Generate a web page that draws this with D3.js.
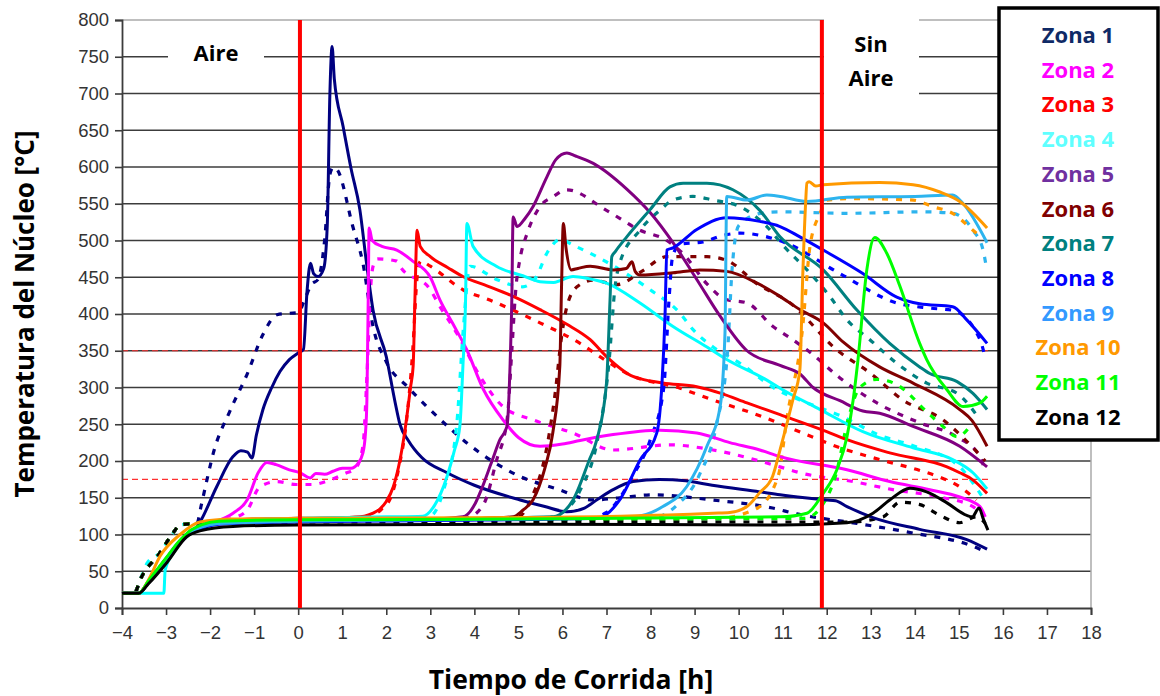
<!DOCTYPE html>
<html>
<head>
<meta charset="utf-8">
<script src="https://cdn.jsdelivr.net/npm/d3@7"></script>
<style>
  body { margin: 0; background: #fff; }
  svg { display: block; }
</style>
</head>
<body>
<div id="main"></div>
<script>
// tick values for both axes
const xTicks = d3.range(-4, 19, 1);
const yTicks = d3.range(0, 801, 50);

// zone names (legend)
const zones = ['Zona 1', 'Zona 2', 'Zona 3', 'Zona 4', 'Zona 5', 'Zona 6',
               'Zona 7', 'Zona 8', 'Zona 9', 'Zona 10', 'Zona 11', 'Zona 12'];

// reference marks: air on / air off (hours) and threshold temperatures
const airMarks = [0.04, 11.89];
const thresholds = [350, 175];

// [hora, temperatura] - solid = first thermocouple, b = dashed one
const zona1 = [[-4,20],[-3.62,20],[-3.4,35],[-3.0,65],[-2.7,88],[-2.5,100],[-2.3,110],[-2.2,120],[-1.85,165],[-1.48,206],[-1.3,214],[-1.15,212],[-1.05,204],[-0.95,235],[-0.8,270],[-0.6,300],[-0.41,322],[-0.2,338],[0.0,347],[0.12,352],[0.2,430],[0.28,469],[0.35,455],[0.45,451],[0.58,462],[0.66,520],[0.72,700],[0.77,764],[0.82,720],[1.02,655],[1.2,598],[1.4,542],[1.55,470],[1.7,405],[2.0,342],[2.2,280],[2.31,250],[2.5,228],[2.8,205],[3.38,184],[4.0,167],[5.04,147],[5.6,138],[6.1,131],[6.5,136],[6.8,148],[7.15,161],[7.6,172],[8.2,175],[8.8,173],[9.4,167],[10.48,158],[10.94,154],[11.5,150],[12.0,147],[12.2,146],[12.46,138],[13.05,123],[14.11,107],[15.18,93],[15.64,80]];
const zona1b = [[-4,20],[-3.7,22],[-3.59,38],[-3.14,75],[-2.84,102],[-2.68,113],[-2.3,115],[-2.2,140],[-2.05,180],[-1.93,210],[-1.55,268],[-1.16,318],[-0.8,372],[-0.48,399],[-0.2,401],[0.0,402],[0.15,420],[0.3,440],[0.45,447],[0.6,500],[0.72,590],[0.8,600],[0.9,595],[1.24,519],[1.47,469],[1.7,383],[2.0,335],[2.5,300],[2.99,270],[4.13,211],[5.0,180],[5.87,162],[6.7,147],[7.3,150],[8.05,154],[9.4,147],[10.77,136],[11.32,128],[12.69,115],[13.96,102],[15.32,84],[15.55,78]];

const zona2 = [[-4,20],[-3.62,20],[-3.4,36],[-3.0,67],[-2.7,90],[-2.5,102],[-2.2,112],[-1.9,117],[-1.48,129],[-1.16,147],[-0.9,185],[-0.71,198],[-0.5,195],[-0.2,188],[0.04,184],[0.27,177],[0.4,183],[0.6,182],[0.79,186],[1.0,190],[1.2,190],[1.35,196],[1.47,211],[1.53,240],[1.56,283],[1.59,420],[1.61,517],[1.68,500],[1.9,492],[2.24,487],[2.6,472],[3.0,450],[3.22,419],[3.5,388],[3.83,351],[4.2,298],[4.65,256],[5.0,232],[5.49,220],[6.0,223],[6.4,228],[7.15,236],[8.21,242],[9.05,238],[9.8,225],[10.48,215],[10.94,206],[12.46,188],[13.43,172],[14.34,161],[15.02,151],[15.48,138],[15.6,124]];
const zona2b = [[-4,20],[-3.7,22],[-3.59,38],[-3.14,75],[-2.84,102],[-2.68,113],[-2.3,115],[-1.9,118],[-1.5,122],[-1.16,133],[-0.87,165],[-0.48,172],[-0.05,168],[0.3,168],[0.72,174],[1.06,183],[1.3,190],[1.47,220],[1.56,315],[1.65,440],[1.7,465],[1.8,475],[2.24,472],[2.31,465],[3.0,433],[3.22,410],[3.6,374],[4.13,315],[4.65,274],[5.33,256],[6.24,238],[7.15,215],[8.44,222],[9.42,215],[10.94,192],[11.39,184],[12.6,172],[13.5,161],[14.57,151],[15.32,138],[15.5,128]];

const zona3 = [[-4,20],[-3.62,20],[-3.4,36],[-3.0,67],[-2.7,90],[-2.5,102],[-2.2,112],[-1.8,118],[-1,121],[0,122],[1.0,123],[1.5,125],[1.7,129],[1.86,135],[2.0,145],[2.16,165],[2.31,201],[2.42,240],[2.55,300],[2.61,329],[2.65,419],[2.7,514],[2.77,492],[3.0,478],[3.4,463],[3.74,451],[4.3,438],[4.88,424],[5.49,406],[6.1,386],[6.63,365],[7.0,342],[7.6,315],[7.76,312],[8.28,306],[9.05,301],[9.6,292],[10.19,279],[10.94,263],[12.0,240],[12.46,229],[13.43,211],[14.73,192],[15.02,184],[15.3,175],[15.64,156]];
const zona3b = [[-4,20],[-3.7,22],[-3.59,38],[-3.14,75],[-2.84,102],[-2.68,113],[-2.3,115],[-1.5,119],[0,120],[1.5,123],[1.9,135],[2.1,150],[2.3,195],[2.45,250],[2.6,350],[2.7,450],[2.78,472],[3.0,465],[3.74,433],[4.35,419],[5.03,401],[5.49,388],[6.4,360],[6.85,342],[7.5,318],[8.67,299],[9.42,283],[10.55,260],[11.46,238],[12.3,218],[13.2,202],[14.18,186],[14.57,178],[15.02,165],[15.4,147]];

const zona4 = [[-4,20],[-3.05,20],[-3.02,52],[-2.8,78],[-2.6,95],[-2.4,105],[-2.1,114],[-1.6,119],[0,122],[2.0,124],[2.83,125],[3.1,140],[3.38,179],[3.55,215],[3.67,247],[3.74,329],[3.8,419],[3.83,523],[3.97,492],[4.5,465],[5.1,452],[5.49,444],[5.8,443],[6.24,451],[6.6,448],[7.0,442],[7.76,415],[8.51,383],[9.28,355],[9.73,338],[10.64,310],[10.94,299],[11.85,270],[12.82,240],[13.96,218],[14.86,202],[15.32,184],[15.64,162]];
const zona4b = [[-4,20],[-3.7,22],[-3.59,38],[-3.43,61],[-3.14,75],[-2.84,102],[-2.68,113],[-2.3,115],[-1.5,119],[0,120],[2.5,121],[3.0,125],[3.3,160],[3.6,250],[3.75,380],[3.9,465],[4.5,447],[5.1,437],[5.4,450],[5.65,483],[5.94,501],[6.3,492],[6.78,478],[7.99,433],[8.67,401],[8.96,379],[9.42,355],[10.03,333],[10.87,297],[11.39,283],[12.37,260],[13.2,235],[13.9,222],[15.0,193],[15.48,156],[15.6,145]];

const zona5 = [[-4,20],[-3.62,20],[-3.4,35],[-3.0,66],[-2.7,89],[-2.5,101],[-2.2,111],[-1.8,116],[0,119],[3.0,121],[3.74,124],[4.0,140],[4.13,157],[4.4,200],[4.58,229],[4.74,247],[4.81,329],[4.85,419],[4.88,532],[4.97,519],[5.15,530],[5.33,546],[5.65,587],[5.85,610],[6.1,619],[6.3,615],[6.7,605],[7.46,570],[7.99,538],[8.51,497],[9.05,447],[9.58,397],[10.19,350],[10.94,330],[11.4,318],[11.69,300],[12.3,282],[12.82,268],[13.2,265],[13.96,247],[15.02,220],[15.64,192]];
const zona5b = [[-4,20],[-3.7,22],[-3.59,38],[-3.14,75],[-2.84,102],[-2.68,113],[-2.3,115],[-1.5,118],[0,119],[3.0,120],[3.8,122],[4.2,140],[4.5,200],[4.75,260],[4.85,350],[4.95,440],[5.03,473],[5.2,510],[5.49,546],[5.8,560],[6.1,569],[7.0,541],[7.76,514],[8.37,500],[8.74,482],[9.28,441],[9.7,420],[10.19,415],[10.78,383],[11.23,365],[11.62,348],[12.3,313],[13.14,279],[14.11,252],[14.95,233],[15.48,206],[15.6,185]];

const zona6 = [[-4,20],[-3.62,20],[-3.4,35],[-3.0,66],[-2.7,89],[-2.5,101],[-2.2,110],[-1.8,115],[0,118],[3.0,120],[4.88,124],[5.1,133],[5.33,147],[5.6,190],[5.78,238],[5.94,329],[5.98,440],[6.02,523],[6.08,490],[6.2,460],[6.35,462],[6.63,465],[7.15,460],[7.45,462],[7.58,471],[7.65,458],[7.76,453],[8.51,456],[9.12,460],[9.73,458],[10.42,442],[10.94,424],[11.39,406],[11.92,388],[12.37,362],[13.2,328],[13.96,306],[15.02,270],[15.3,255],[15.64,220]];
const zona6b = [[-4,20],[-3.7,22],[-3.59,38],[-3.14,75],[-2.84,102],[-2.68,113],[-2.3,115],[-1.5,118],[0,119],[4.0,120],[5.0,124],[5.3,150],[5.65,220],[5.85,300],[5.96,360],[6.1,410],[6.33,437],[6.7,446],[7.23,440],[7.8,458],[8.37,478],[9.28,478],[9.73,473],[10.42,441],[11.17,415],[12.23,351],[12.98,320],[13.73,283],[14.64,256],[15.32,218],[15.6,200]];

const zona7 = [[-4,20],[-3.62,20],[-3.4,36],[-3.0,67],[-2.7,90],[-2.5,102],[-2.2,112],[-1.8,117],[0,120],[3,121],[5.78,124],[6.24,147],[6.6,200],[6.78,229],[7.0,306],[7.08,419],[7.12,478],[7.2,485],[7.46,505],[7.99,542],[8.44,573],[8.74,578],[9.28,578],[9.87,569],[10.48,541],[10.94,505],[11.92,460],[12.69,405],[13.43,360],[14.11,328],[14.34,319],[14.96,308],[15.32,292],[15.64,270]];
const zona7b = [[-4,20],[-3.7,22],[-3.59,38],[-3.14,75],[-2.84,102],[-2.68,113],[-2.3,115],[-1.5,118],[0,119],[5.5,121],[6.0,130],[6.4,160],[6.8,230],[7.05,330],[7.2,440],[7.3,469],[7.76,514],[8.21,541],[8.51,555],[8.96,560],[9.42,555],[10.03,546],[10.64,519],[11.0,494],[11.69,451],[12.07,424],[12.46,392],[12.98,365],[13.59,333],[14.27,306],[14.96,292],[15.48,256]];

const zona8 = [[-4,20],[-3.62,20],[-3.4,34],[-3.0,64],[-2.7,87],[-2.5,99],[-2.2,108],[-1.8,114],[0,117],[3,119],[6.78,122],[7.3,147],[7.76,201],[8.14,238],[8.26,306],[8.33,400],[8.37,487],[8.51,490],[9.05,515],[9.73,531],[10.48,526],[10.94,519],[11.39,505],[11.92,487],[12.82,455],[13.59,423],[14.11,414],[14.86,410],[15.18,392],[15.64,360]];
const zona8b = [[-4,20],[-3.7,22],[-3.59,38],[-3.14,75],[-2.84,102],[-2.68,113],[-2.3,115],[-1.5,118],[0,119],[6.5,121],[7.0,130],[7.6,180],[8.0,230],[8.3,300],[8.42,420],[8.5,478],[8.67,495],[9.19,498],[9.65,507],[10.03,510],[10.64,505],[11.1,496],[12.3,455],[13.59,415],[14.34,408],[14.86,405],[15.48,365],[15.6,340]];

const zona9 = [[-4,20],[-3.62,20],[-3.4,35],[-3.0,66],[-2.7,89],[-2.5,101],[-2.2,110],[-1.8,115],[0,118],[3,120],[7.6,124],[8.28,138],[8.82,165],[9.28,220],[9.58,274],[9.69,374],[9.73,560],[10.19,555],[10.64,562],[10.94,560],[11.55,553],[12.46,559],[14.0,560],[14.86,562],[15.1,550],[15.64,497]];
const zona9b = [[-4,20],[-3.7,22],[-3.59,38],[-3.14,75],[-2.84,102],[-2.68,113],[-2.3,115],[-1.5,118],[0,119],[8.0,122],[8.6,140],[9.1,180],[9.5,250],[9.75,350],[9.85,460],[10.0,520],[10.5,537],[10.94,539],[12.46,537],[14.18,539],[14.86,537],[15.32,514],[15.55,487],[15.62,465]];

const zona10 = [[-4,20],[-3.62,20],[-3.4,38],[-3.14,70],[-2.68,100],[-2.23,117],[-1.5,121],[0,122],[5,123],[9.42,129],[9.8,130],[10.19,138],[10.48,157],[10.77,179],[10.94,215],[11.23,283],[11.39,324],[11.46,460],[11.52,550],[11.55,578],[11.6,580],[11.75,574],[11.92,576],[13.2,579],[13.96,576],[14.57,566],[15.02,553],[15.64,517]];
const zona10b = [[-4,20],[-3.7,22],[-3.59,38],[-3.14,75],[-2.84,102],[-2.68,113],[-2.3,115],[-1.5,118],[0,120],[9.5,122],[10.4,135],[10.9,180],[11.1,260],[11.45,380],[11.62,492],[11.85,537],[12.0,555],[12.6,557],[13.96,555],[14.41,546],[14.86,537],[15.32,514],[15.4,510]];

const zona11 = [[-4,20],[-3.62,20],[-3.4,37],[-3.0,68],[-2.7,91],[-2.5,103],[-2.2,113],[-1.8,118],[0,120],[5,121],[10.94,124],[11.55,129],[11.92,156],[12.23,188],[12.46,233],[12.6,283],[12.71,338],[12.91,460],[13.09,504],[13.36,483],[13.66,438],[14.11,360],[14.27,338],[14.73,297],[15.1,274],[15.48,279],[15.64,288]];
const zona11b = [[-4,20],[-3.7,22],[-3.59,38],[-3.14,75],[-2.84,102],[-2.68,113],[-2.3,115],[-1.5,118],[0,119],[11.5,122],[11.9,140],[12.2,180],[12.5,260],[12.75,300],[13.14,311],[13.59,304],[14.27,267],[14.64,247],[14.96,233],[15.32,253]];

const zona12 = [[-4,20],[-3.62,20],[-3.4,33],[-2.98,62],[-2.53,97],[-2.23,105],[-1.48,111],[0,113],[5,114],[10.94,113],[12.46,116],[13.05,129],[13.43,147],[13.89,163],[14.27,158],[14.73,143],[15.18,126],[15.3,124],[15.46,136],[15.55,122],[15.66,106]];
const zona12b = [[-4,20],[-3.7,22],[-3.59,38],[-3.14,75],[-2.84,102],[-2.68,113],[-2.3,115],[-1.5,116],[0,117],[12.5,117],[13.28,124],[13.66,144],[14.1,141],[14.57,126],[15.02,116],[15.4,124],[15.6,115]];

const solidSeries = [zona1, zona2, zona3, zona4, zona5, zona6, zona7, zona8, zona9, zona10, zona11, zona12];
const dashedSeries = [zona1b, zona2b, zona3b, zona4b, zona5b, zona6b, zona7b, zona8b, zona9b, zona10b, zona11b, zona12b];

// styles
const lineColors = ['#000080', '#FF00FF', '#FF0000', '#00FFFF', '#800080', '#800000',
                    '#008080', '#0000FF', '#2DB4EE', '#FF9900', '#00FF00', '#000000'];
const legendColors = ['#0F2A66', '#FF00FF', '#FF0000', '#5FFFFF', '#7030A0', '#800000',
                      '#008080', '#0000FF', '#3399FF', '#FF9900', '#00FF00', '#000000'];

const width = 1160, height = 696;
const x = d3.scaleLinear().domain([-4, 18]).range([122, 1091]);
const y = d3.scaleLinear().domain([0, 800]).range([608, 20]);

let svg = d3.select('#main')
    .append('svg')
        .attr('width', width)
        .attr('height', height);

// horizontal grid
svg.append('g')
    .selectAll('line')
    .data(yTicks.filter(d => d > 0))
    .enter()
    .append('line')
        .attr('x1', x(-4))
        .attr('x2', x(18))
        .attr('y1', d => y(d))
        .attr('y2', d => y(d))
        .attr('stroke', d => d === 800 ? '#aaaaaa' : '#3c3c3c')
        .attr('stroke-width', 1.6);

// right border of the plot
svg.append('line')
    .attr('x1', x(18)).attr('x2', x(18))
    .attr('y1', y(800)).attr('y2', y(0))
    .attr('stroke', '#aaaaaa').attr('stroke-width', 1.5);

// threshold lines
svg.append('g')
    .selectAll('line')
    .data(thresholds)
    .enter()
    .append('line')
        .attr('x1', x(-4))
        .attr('x2', x(15.75))
        .attr('y1', d => y(d))
        .attr('y2', d => y(d))
        .attr('stroke', '#FF3030')
        .attr('stroke-width', 1.2)
        .attr('stroke-dasharray', '6,4');

// axes
const yAxis = svg.append('g')
    .attr('transform', `translate(${x(-4)},0)`)
    .call(d3.axisLeft(y).tickValues(yTicks).tickSize(7).tickPadding(6));
const xAxis = svg.append('g')
    .attr('transform', `translate(0,${y(0)})`)
    .call(d3.axisBottom(x).tickValues(xTicks).tickSize(7).tickPadding(11));

[yAxis, xAxis].forEach(ax => {
    ax.selectAll('path.domain').attr('stroke', '#3c3c3c').attr('stroke-width', 1.8);
    ax.selectAll('.tick line').attr('stroke', '#3c3c3c').attr('stroke-width', 1.6);
    ax.selectAll('.tick text')
        .attr('fill', '#333')
        .style('font-family', '"Liberation Sans", Arial, sans-serif')
        .style('font-size', '18.5px');
});

// label boxes
svg.append('rect').attr('x', 168).attr('y', 36).attr('width', 96).attr('height', 40).attr('fill', '#fff');
svg.append('rect').attr('x', 824).attr('y', 17).attr('width', 95).attr('height', 80).attr('fill', '#fff');

const labelFont = '"Open Sans", Lato, sans-serif';
svg.append('text').attr('x', 216).attr('y', 52).attr('text-anchor', 'middle').attr('dominant-baseline', 'central')
    .style('font-family', labelFont).style('font-weight', 700).style('font-size', '22px').text('Aire');
svg.append('text').attr('x', 871).attr('y', 43).attr('text-anchor', 'middle').attr('dominant-baseline', 'central')
    .style('font-family', labelFont).style('font-weight', 700).style('font-size', '22px').text('Sin');
svg.append('text').attr('x', 871).attr('y', 77).attr('text-anchor', 'middle').attr('dominant-baseline', 'central')
    .style('font-family', labelFont).style('font-weight', 700).style('font-size', '22px').text('Aire');

// series
const line = d3.line()
    .x(d => x(d[0]))
    .y(d => y(d[1]))
    .curve(d3.curveMonotoneX);

svg.append('g')
    .selectAll('path')
    .data(dashedSeries)
    .enter()
    .append('path')
        .attr('d', line)
        .attr('fill', 'none')
        .attr('stroke', (d, i) => lineColors[i])
        .attr('stroke-width', 3.2)
        .attr('stroke-dasharray', '6,8');

svg.append('g')
    .selectAll('path')
    .data(solidSeries)
    .enter()
    .append('path')
        .attr('d', line)
        .attr('fill', 'none')
        .attr('stroke', (d, i) => lineColors[i])
        .attr('stroke-width', 3)
        .attr('stroke-linejoin', 'round');

// air on / off markers
svg.append('g')
    .selectAll('line')
    .data(airMarks)
    .enter()
    .append('line')
        .attr('x1', d => x(d))
        .attr('x2', d => x(d))
        .attr('y1', y(800))
        .attr('y2', y(0))
        .attr('stroke', '#FF0000')
        .attr('stroke-width', 4);

// legend
svg.append('rect')
    .attr('x', 999).attr('y', 8)
    .attr('width', 159).attr('height', 432)
    .attr('fill', '#fff')
    .attr('stroke', '#000')
    .attr('stroke-width', 3.5);

svg.append('g')
    .selectAll('text')
    .data(zones)
    .enter()
    .append('text')
        .attr('x', 1078)
        .attr('y', (d, i) => 34 + i * 34.7)
        .attr('text-anchor', 'middle')
        .attr('dominant-baseline', 'central')
        .style('font-family', labelFont)
        .style('font-weight', 700)
        .style('font-size', '22px')
        .attr('fill', (d, i) => legendColors[i])
        .text(d => d);

// axis titles
svg.append('text')
    .attr('transform', 'translate(24,314) rotate(-90)')
    .attr('text-anchor', 'middle')
    .attr('dominant-baseline', 'central')
    .style('font-family', labelFont)
    .style('font-weight', 700)
    .style('font-size', '26px')
    .text('Temperatura del Núcleo [°C]');

svg.append('text')
    .attr('x', 571)
    .attr('y', 679)
    .attr('text-anchor', 'middle')
    .attr('dominant-baseline', 'central')
    .style('font-family', labelFont)
    .style('font-weight', 700)
    .style('font-size', '26.5px')
    .text('Tiempo de Corrida [h]');
</script>
</body>
</html>
